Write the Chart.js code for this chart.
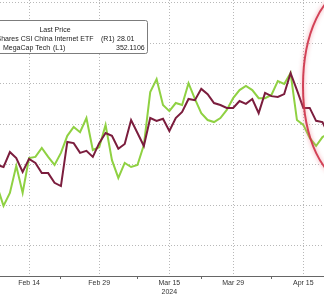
<!DOCTYPE html>
<html>
<head>
<meta charset="utf-8">
<script src="https://cdn.jsdelivr.net/npm/chart.js@4.4.1/dist/chart.umd.min.js"></script>
<style>
  html, body { margin: 0; padding: 0; background: #fff; }
  #chart { display: block; }
</style>
</head>
<body>
<canvas id="chart" width="324" height="294"></canvas>
<script>
// weekdays shown on the axis
const dates = [
  '2024-02-07','2024-02-08','2024-02-09','2024-02-12','2024-02-13','2024-02-14','2024-02-15','2024-02-16',
  '2024-02-19','2024-02-20','2024-02-21','2024-02-22','2024-02-23','2024-02-26','2024-02-27','2024-02-28','2024-02-29',
  '2024-03-01','2024-03-04','2024-03-05','2024-03-06','2024-03-07','2024-03-08','2024-03-11','2024-03-12','2024-03-13',
  '2024-03-14','2024-03-15','2024-03-18','2024-03-19','2024-03-20','2024-03-21','2024-03-22','2024-03-25','2024-03-26',
  '2024-03-27','2024-03-28','2024-03-29','2024-04-01','2024-04-02','2024-04-03','2024-04-04','2024-04-05','2024-04-08',
  '2024-04-09','2024-04-10','2024-04-11','2024-04-12','2024-04-15','2024-04-16','2024-04-17','2024-04-18','2024-04-19'
]

// iShares CSI China Internet ETF (R1)
const kweb = [
  24.48, 23.99, 24.31, 24.98, 24.31, 25.17, 25.20, 25.42, 25.20, 25.00, 25.30, 25.72, 25.94, 25.81, 26.16, 25.37, 25.44,
  25.99, 25.12, 24.68, 25.05, 24.95, 25.00, 25.49, 26.80, 27.12, 26.48, 26.33, 26.53, 26.48, 27.02, 26.63, 26.28, 26.11,
  26.06, 26.16, 26.36, 26.65, 26.85, 26.95, 26.85, 26.65, 26.65, 26.73, 27.07, 27.00, 27.27, 26.11, 25.99, 25.67, 25.47,
  25.69, 25.79
]

// MegaCap Tech (L1)
const megacap = [
  330.0, 329.5, 333.2, 331.7, 328.3, 331.5, 330.5, 328.0, 328.0, 325.6, 324.8, 335.7, 335.4, 333.0, 333.5, 332.0, 335.4,
  337.9, 337.2, 334.0, 335.2, 341.1, 337.9, 334.7, 341.6, 340.9, 341.4, 338.4, 341.6, 343.1, 346.3, 346.0, 348.8, 347.5,
  345.3, 344.8, 344.1, 344.1, 345.8, 345.1, 346.3, 342.8, 347.8, 347.0, 346.8, 347.5, 352.7, 348.5, 344.1, 344.1, 340.9,
  340.6, 337.4
]

const tickDates = ['2024-02-14', '2024-02-29', '2024-03-15', '2024-03-29', '2024-04-15']
const tickLabels = ['Feb 14', 'Feb 29', ['Mar 15', '2024'], 'Mar 29', 'Apr 15']
const minorDates = ['2024-02-21', '2024-03-08', '2024-03-22', '2024-04-08']
const leftTicks = [310, 320, 330, 340, 350, 360, 370]

const legendRows = [
  { name: 'iShares CSI China Internet ETF', axis: '(R1)', last: '28.01' },
  { name: 'MegaCap Tech', axis: '(L1)', last: '352.1106' }
]

const majorIdx = tickDates.map(d => dates.indexOf(d))
const minorIdx = minorDates.map(d => dates.indexOf(d))
const points = arr => arr.map((v, i) => ({ x: i, y: v }))
const gridGrey = '#b8b8b8'

const overlay = {
  id: 'overlay',
  afterDraw(chart) {
    const c = chart.ctx
    c.save()
    // legend box
    c.fillStyle = '#fff'
    c.strokeStyle = '#7c7c7c'
    c.lineWidth = 1
    c.beginPath()
    c.roundRect(-3.5, 20.5, 151, 33, 2)
    c.fill()
    c.stroke()
    c.fillStyle = '#222'
    c.font = '7px "Liberation Sans"'
    c.textBaseline = 'middle'
    c.textAlign = 'center'
    c.fillText('Last Price', 55, 30)
    c.textAlign = 'left'
    c.fillText(legendRows[0].name, -5, 39.5)
    c.fillText(legendRows[0].axis, 101, 39.5)
    c.fillText(legendRows[0].last, 117, 39.5)
    c.fillText(legendRows[1].name, 3, 48)
    c.fillText(legendRows[1].axis, 53, 48)
    c.fillText(legendRows[1].last, 116, 48)

    // red circle highlight
    c.beginPath()
    c.ellipse(348, 86, 45, 95, 0, 0, Math.PI * 2)
    c.shadowColor = 'rgba(235,110,125,0.8)'
    c.shadowBlur = 4
    c.strokeStyle = 'rgba(206,50,72,0.9)'
    c.lineWidth = 2
    c.stroke()
    c.restore()
  }
}

new Chart(document.getElementById('chart'), {
  type: 'line',
  data: {
    datasets: [
      {
        label: 'MegaCap Tech (L1)',
        data: points(megacap),
        yAxisID: 'yL',
        borderColor: '#7b1d3d',
        borderWidth: 2,
        pointRadius: 0,
        tension: 0
      },
      {
        label: 'iShares CSI China Internet ETF (R1)',
        data: points(kweb),
        yAxisID: 'yR',
        borderColor: '#8fd142',
        borderWidth: 2,
        pointRadius: 0,
        tension: 0
      }
    ]
  },
  options: {
    responsive: false,
    animation: false,
    layout: { padding: 0 },
    plugins: {
      legend: { display: false },
      tooltip: { enabled: false }
    },
    scales: {
      x: {
        type: 'linear',
        min: 0.45,
        max: 51.24,
        afterBuildTicks: s => { s.ticks = [...majorIdx, ...minorIdx].sort((a, b) => a - b).map(v => ({ value: v })) },
        afterFit: s => { s.height = 18 },
        ticks: {
          autoSkip: false,
          maxRotation: 0,
          padding: 0,
          color: '#333',
          font: { family: 'Liberation Sans', size: 7 },
          callback: v => {
            const k = majorIdx.indexOf(v)
            return k >= 0 ? tickLabels[k] : ''
          }
        },
        grid: {
          color: c => majorIdx.includes(c.tick && c.tick.value) ? gridGrey : 'rgba(0,0,0,0)',
          tickColor: c => minorIdx.includes(c.tick && c.tick.value) ? '#666' : 'rgba(0,0,0,0)',
          tickLength: 3
        },
        border: { display: true, color: '#666', width: 1, dash: [1, 2] }
      },
      yL: {
        type: 'linear',
        position: 'left',
        min: 302.59,
        max: 370.74,
        afterBuildTicks: s => { s.ticks = leftTicks.map(v => ({ value: v })) },
        afterFit: s => { s.width = 0 },
        ticks: { display: false },
        grid: { color: gridGrey, drawTicks: false },
        border: { display: false, dash: [1, 2] }
      },
      yR: {
        type: 'linear',
        position: 'right',
        display: false,
        min: 22.259,
        max: 29.074
      }
    }
  },
  plugins: [overlay]
})
</script>
</body>
</html>
